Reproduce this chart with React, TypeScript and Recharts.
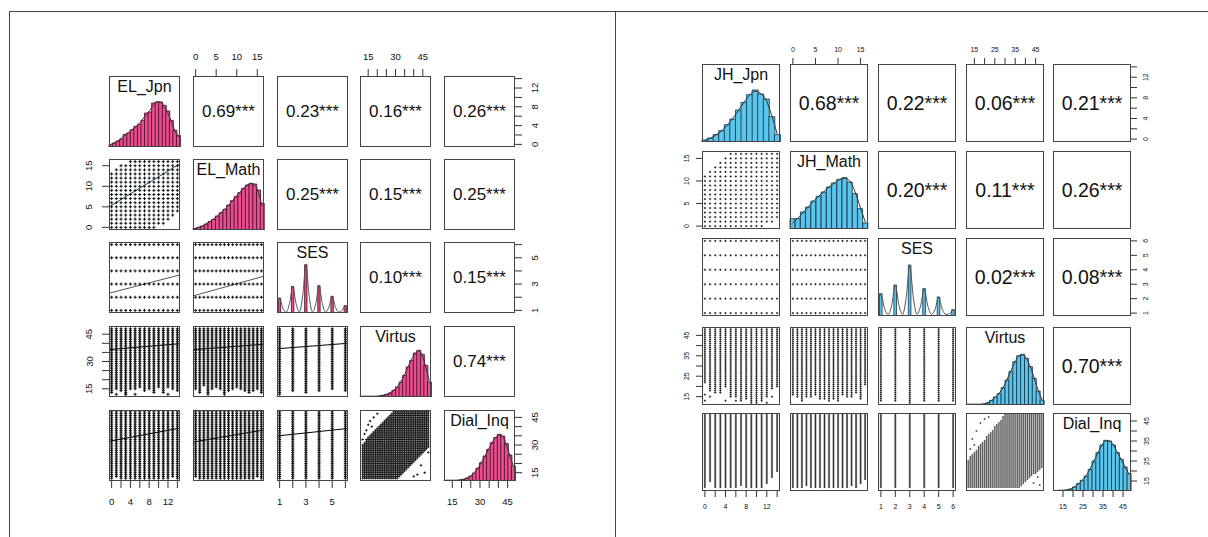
import React from 'react'
import { Bar, ComposedChart, Line, Scatter, XAxis, YAxis } from 'recharts'

const FONT = '"Liberation Sans", Arial, Helvetica, sans-serif'

// value levels of the variables
const jpnLevels = [0, 1, 2, 3, 4, 5, 6, 7, 8, 9, 10, 11, 12, 13, 14]
const mathLevels = [0, 1, 2, 3, 4, 5, 6, 7, 8, 9, 10, 11, 12, 13, 14, 15, 16]
const sesLevels = [1, 2, 3, 4, 5, 6]
const scoreLevels = [
  12, 13, 14, 15, 16, 17, 18, 19, 20, 21, 22, 23, 24, 25, 26, 27, 28, 29, 30,
  31, 32, 33, 34, 35, 36, 37, 38, 39, 40, 41, 42, 43, 44, 45, 46, 47, 48,
]

// axis ticks
const jpnTicks = [0, 2, 4, 6, 8, 10, 12, 14]
const mathTicks = [0, 5, 10, 15]
const sesTicks = [1, 2, 3, 4, 5, 6]
const scoreTicks = [15, 20, 25, 30, 35, 40, 45]

// density line grid for SES
const sesDensX = [
  0.8, 1, 1.25, 1.5, 1.75, 2, 2.25, 2.5, 2.75, 3, 3.25, 3.5, 3.75, 4, 4.25, 4.5,
  4.75, 5, 5.25, 5.5, 5.75, 6, 6.2,
]

// ---------- left: elementary ----------
const elNames = ['EL_Jpn', 'EL_Math', 'SES', 'Virtus', 'Dial_Inq']
const elCorr = [
  ['0.69***', '0.23***', '0.16***', '0.26***'],
  ['0.25***', '0.15***', '0.25***'],
  ['0.10***', '0.15***'],
  ['0.74***'],
]
const elJpnHist = [7, 12, 18, 24, 38, 42, 52, 62, 68, 80, 102, 105, 132, 135, 135, 125, 108, 80, 50, 35]
const elJpnDens = [8, 13, 18, 27, 35, 44, 52, 60, 70, 84, 97, 110, 126, 136, 134, 122, 104, 78, 50, 30]
const elMathHist = [5, 8, 12, 18, 25, 32, 42, 52, 62, 75, 88, 100, 112, 125, 135, 140, 138, 120, 80]
const elMathDens = [4, 8, 12, 18, 25, 33, 42, 52, 62, 74, 87, 100, 113, 125, 134, 139, 135, 112, 72]
const elSesHist = [45, 80, 145, 82, 50, 22]
const elSesDens = [20, 44, 14, 3, 28, 79, 28, 3, 50, 143, 50, 3, 28, 80, 28, 3, 18, 49, 17, 3, 8, 22, 12]
const elVirtusHist = [2, 2, 2, 2, 2, 3, 5, 8, 12, 20, 30, 45, 65, 90, 110, 132, 140, 128, 95, 45]
const elVirtusDens = [2, 2, 2, 2, 2, 3, 5, 8, 13, 20, 31, 46, 66, 90, 112, 130, 138, 126, 90, 48]
const elDialHist = [2, 2, 2, 2, 3, 5, 9, 15, 24, 38, 55, 75, 95, 115, 130, 140, 135, 112, 78, 45]
const elDialDens = [2, 2, 2, 2, 3, 5, 9, 15, 25, 38, 55, 74, 95, 114, 130, 138, 134, 110, 78, 46]

const elJpnMathLo = [0, 0, 0, 0, 0, 0, 0, 0, 0, 0, 1, 1, 2, 3, 4]
const elJpnMathHi = [13, 14, 15, 15, 16, 16, 16, 16, 16, 16, 16, 16, 16, 16, 16]
const elJpnVirtusLo = [13, 15, 14, 12, 15, 15, 16, 14, 15, 14, 16, 13, 16, 15, 14]
const elMathVirtusLo = [15, 13, 17, 12, 15, 16, 15, 12, 14, 15, 16, 15, 14, 13, 14, 15, 13]
const elSesVirtusLo = [12, 14, 13, 14, 15, 14]
const elJpnDialLo = [12, 13, 12, 12, 12, 12, 12, 12, 12, 12, 12, 12, 12, 13, 12]
const elMathDialLo = [13, 12, 12, 12, 12, 12, 12, 12, 12, 12, 12, 12, 12, 12, 12, 13, 12]
const elSesDialLo = [12, 12, 12, 12, 12, 12]
const elVirDialLo = [
  12, 12, 12, 12, 12, 12, 12, 12, 12, 12, 12, 12, 12, 12, 12, 12, 12, 12, 12,
  12, 13, 14, 15, 16, 17, 18, 19, 20, 21, 22, 23, 24, 25, 26, 27, 28, 29,
]
const elVirDialHi = [
  30, 31, 33, 34, 35, 36, 37, 38, 39, 40, 41, 42, 43, 44, 45, 46, 47, 48, 48,
  48, 48, 48, 48, 48, 48, 48, 48, 48, 48, 48, 48, 48, 48, 48, 48, 48, 48,
]
const elVirDialExtra = [
  { x: 12, y: 33 }, { x: 13, y: 36 }, { x: 14, y: 38 }, { x: 15, y: 41 },
  { x: 16, y: 43 }, { x: 17, y: 40 }, { x: 18, y: 45 }, { x: 20, y: 47 },
  { x: 40, y: 13 }, { x: 42, y: 14 }, { x: 44, y: 19 }, { x: 46, y: 15 }, { x: 48, y: 26 },
]
const elJpnVirtusExtra = [
  { x: 1, y: 12 }, { x: 3, y: 12 }, { x: 5, y: 12 }, { x: 9, y: 13 }, { x: 12, y: 12 },
]

const elFit21 = [{ x: -0.56, y: 5.0 }, { x: 14.56, y: 15.5 }]
const elFit31 = [{ x: -0.56, y: 2.3 }, { x: 14.56, y: 3.7 }]
const elFit32 = [{ x: -0.64, y: 2.1 }, { x: 16.64, y: 3.6 }]
const elFit41 = [{ x: -0.56, y: 36.5 }, { x: 14.56, y: 39.8 }]
const elFit42 = [{ x: -0.64, y: 36.5 }, { x: 16.64, y: 39.5 }]
const elFit43 = [{ x: 0.8, y: 37 }, { x: 6.2, y: 40 }]
const elFit51 = [{ x: -0.56, y: 32 }, { x: 14.56, y: 39.2 }]
const elFit52 = [{ x: -0.64, y: 31.6 }, { x: 16.64, y: 38.2 }]
const elFit53 = [{ x: 0.8, y: 34.9 }, { x: 6.2, y: 39 }]

// ---------- right: junior high ----------
const jhNames = ['JH_Jpn', 'JH_Math', 'SES', 'Virtus', 'Dial_Inq']
const jhCorr = [
  ['0.68***', '0.22***', '0.06***', '0.21***'],
  ['0.20***', '0.11***', '0.26***'],
  ['0.02***', '0.08***'],
  ['0.70***'],
]
const jhJpnHist = [6, 12, 22, 34, 52, 69, 96, 119, 142, 156, 144, 129, 76, 22]
const jhJpnDens = [5, 11, 21, 33, 50, 70, 94, 118, 140, 152, 146, 126, 80, 24]
const jhMathHist = [31, 31, 51, 66, 84, 98, 111, 126, 138, 149, 154, 141, 106, 61, 18]
const jhMathDens = [18, 32, 49, 66, 83, 98, 112, 126, 138, 148, 152, 144, 112, 66, 20]
const jhSesHist = [67, 93, 153, 82, 57, 19]
const jhSesDens = [30, 66, 22, 5, 32, 92, 32, 5, 54, 150, 54, 5, 30, 81, 30, 5, 20, 56, 20, 5, 7, 19, 10]
const jhVirtusHist = [2, 2, 2, 2, 3, 6, 14, 24, 34, 52, 75, 100, 130, 148, 152, 140, 115, 80, 42, 15]
const jhVirtusDens = [2, 2, 2, 2, 3, 6, 13, 23, 35, 52, 76, 102, 128, 146, 150, 140, 114, 80, 44, 16]
const jhDialHist = [1, 2, 2, 3, 6, 12, 22, 32, 45, 65, 90, 115, 138, 152, 150, 138, 115, 95, 72, 52]
const jhDialDens = [1, 2, 2, 3, 6, 12, 21, 32, 46, 66, 90, 114, 136, 150, 150, 138, 116, 94, 72, 50]

const jhJpnMathLo = [0, 0, 0, 0, 0, 0, 0, 0, 0, 0, 0, 0, 1, 1, 2]
const jhJpnMathHi = [11, 12, 13, 14, 15, 16, 16, 16, 16, 16, 16, 16, 16, 16, 16]
const jhJpnVirtusLo = [22, 18, 17, 17, 20, 15, 15, 13, 14, 12, 12, 13, 15, 19, 20]
const jhJpnVirtusExtra = [
  { x: 0, y: 16 }, { x: 0, y: 13 }, { x: 1, y: 15 }, { x: 4, y: 13 },
  { x: 6, y: 13 }, { x: 12, y: 12 }, { x: 13, y: 15 },
]
const jhMathVirtusLo = [16, 15, 13, 15, 15, 16, 14, 14, 13, 14, 13, 16, 15, 15, 17, 14, 21]
const jhSesVirtusLo = [13, 13, 12, 13, 13, 13]
const jhJpnDialLo = [12, 15, 12, 12, 12, 12, 12, 13, 12, 12, 12, 12, 14, 17, 20]
const jhMathDialLo = [12, 12, 12, 13, 12, 12, 12, 12, 12, 12, 12, 12, 12, 13, 12, 14, 16]
const jhSesDialLo = [12, 12, 12, 12, 12, 12]
const jhVirDialLo = [
  12, 12, 12, 12, 12, 12, 12, 12, 12, 12, 12, 12, 12, 12, 12, 12, 12, 12, 12,
  12, 12, 12, 12, 12, 12, 12, 13, 14, 15, 16, 17, 18, 19, 19, 20, 21, 22,
]
const jhVirDialHi = [
  25, 27, 28, 29, 30, 32, 33, 34, 35, 37, 38, 39, 40, 42, 43, 44, 45, 47, 48,
  48, 48, 48, 48, 48, 48, 48, 48, 48, 48, 48, 48, 48, 48, 48, 48, 48, 48,
]
const jhVirDialExtra = [
  { x: 13, y: 31 }, { x: 14, y: 36 }, { x: 15, y: 33 }, { x: 16, y: 40 },
  { x: 18, y: 44 }, { x: 20, y: 46 }, { x: 22, y: 47 },
  { x: 44, y: 14 }, { x: 46, y: 17 }, { x: 47, y: 13 },
]

type Pt = { x: number; y: number }
type ScatSpec = {
  xs: number[]
  ys: number[]
  lo: number[]
  hi?: number[]
  extra?: Pt[]
  fit?: Pt[]
  fitColor?: string
  dot?: number
  dotWidth?: number
}
type HistSpec = { h: number[]; d: number[] }

type MatrixSpec = {
  colX: number[]
  rowY: number[]
  size: number
  names: string[]
  corr: string[][]
  domains: [number, number][]
  ticks: number[][]
  labels: number[][]
  hists: HistSpec[]
  sesHist: number[]
  sesDens: number[]
  scatter: Record<string, ScatSpec>
  barFill: string
  barStroke: string
  sesBar: number
  histTop: number
  nameSize: number
  corrSize: number
  tickFont: number
  tickLen: number
  labelGap: number
  dot: number
  dotWidth: number
}

const elMatrix: MatrixSpec = {
  colX: [109, 193, 277, 360, 444],
  rowY: [76, 159, 242, 326, 410],
  size: 71,
  names: elNames,
  corr: elCorr,
  domains: [[-0.56, 14.56], [-0.64, 16.64], [0.8, 6.2], [10.5, 49.5], [10.5, 49]],
  ticks: [jpnTicks, mathTicks, sesTicks, scoreTicks, scoreTicks],
  labels: [[0, 4, 8, 12], [0, 5, 10, 15], [1, 3, 5], [15, 30, 45], [15, 30, 45]],
  hists: [
    { h: elJpnHist, d: elJpnDens },
    { h: elMathHist, d: elMathDens },
    { h: [], d: [] },
    { h: elVirtusHist, d: elVirtusDens },
    { h: elDialHist, d: elDialDens },
  ],
  sesHist: elSesHist,
  sesDens: elSesDens,
  scatter: {
    '10': { xs: jpnLevels, ys: mathLevels, lo: elJpnMathLo, hi: elJpnMathHi, fit: elFit21, fitColor: '#2d4862' },
    '20': { xs: jpnLevels, ys: sesLevels, lo: jpnLevels.map(() => 1), fit: elFit31, fitColor: '#555' },
    '21': { xs: mathLevels, ys: sesLevels, lo: mathLevels.map(() => 1), fit: elFit32, fitColor: '#555' },
    '30': { xs: jpnLevels, ys: scoreLevels, lo: elJpnVirtusLo, extra: elJpnVirtusExtra, fit: elFit41, fitColor: '#000' },
    '31': { xs: mathLevels, ys: scoreLevels, lo: elMathVirtusLo, fit: elFit42, fitColor: '#000' },
    '32': { xs: sesLevels, ys: scoreLevels, lo: elSesVirtusLo, fit: elFit43, fitColor: '#000' },
    '40': { xs: jpnLevels, ys: scoreLevels, lo: elJpnDialLo, fit: elFit51, fitColor: '#000' },
    '41': { xs: mathLevels, ys: scoreLevels, lo: elMathDialLo, fit: elFit52, fitColor: '#000' },
    '42': { xs: sesLevels, ys: scoreLevels, lo: elSesDialLo, fit: elFit53, fitColor: '#000' },
    '43': { xs: scoreLevels, ys: scoreLevels, lo: elVirDialLo, hi: elVirDialHi, extra: elVirDialExtra, dot: 1.2, dotWidth: 0.9 },
  },
  barFill: '#ea4e8f',
  barStroke: '#3d0b24',
  sesBar: 4,
  histTop: 213,
  nameSize: 16,
  corrSize: 17,
  tickFont: 9.5,
  tickLen: 7,
  labelGap: 20,
  dot: 1.5,
  dotWidth: 1,
}

const jhMatrix: MatrixSpec = {
  colX: [702, 790, 878, 966, 1053],
  rowY: [64, 151, 238, 327, 413],
  size: 78,
  names: jhNames,
  corr: jhCorr,
  domains: [[-0.56, 14.56], [-0.64, 16.64], [0.8, 6.2], [10.9, 49.1], [10, 49]],
  ticks: [jpnTicks, mathTicks, sesTicks, scoreTicks, scoreTicks],
  labels: [[0, 4, 8, 12], [0, 5, 10, 15], [1, 2, 3, 4, 5, 6], [15, 25, 35, 45], [15, 25, 35, 45]],
  hists: [
    { h: jhJpnHist, d: jhJpnDens },
    { h: jhMathHist, d: jhMathDens },
    { h: [], d: [] },
    { h: jhVirtusHist, d: jhVirtusDens },
    { h: jhDialHist, d: jhDialDens },
  ],
  sesHist: jhSesHist,
  sesDens: jhSesDens,
  scatter: {
    '10': { xs: jpnLevels, ys: mathLevels, lo: jhJpnMathLo, hi: jhJpnMathHi },
    '20': { xs: jpnLevels, ys: sesLevels, lo: jpnLevels.map(() => 1) },
    '21': { xs: mathLevels, ys: sesLevels, lo: mathLevels.map(() => 1) },
    '30': { xs: jpnLevels, ys: scoreLevels, lo: jhJpnVirtusLo, extra: jhJpnVirtusExtra },
    '31': { xs: mathLevels, ys: scoreLevels, lo: jhMathVirtusLo },
    '32': { xs: sesLevels, ys: scoreLevels, lo: jhSesVirtusLo },
    '40': { xs: jpnLevels, ys: scoreLevels, lo: jhJpnDialLo },
    '41': { xs: mathLevels, ys: scoreLevels, lo: jhMathDialLo },
    '42': { xs: sesLevels, ys: scoreLevels, lo: jhSesDialLo },
    '43': { xs: scoreLevels, ys: scoreLevels, lo: jhVirDialLo, hi: jhVirDialHi, extra: jhVirDialExtra, dot: 1, dotWidth: 0.6 },
  },
  barFill: '#5ac6ee',
  barStroke: '#123040',
  sesBar: 4.5,
  histTop: 234,
  nameSize: 16,
  corrSize: 19.5,
  tickFont: 7,
  tickLen: 6,
  labelGap: 15,
  dot: 1.1,
  dotWidth: 0.8,
}

const PAD = 32
const AXIS = 26

function expand(s: ScatSpec): Pt[] {
  const pts: Pt[] = []
  s.xs.forEach((x, i) => {
    s.ys.forEach((y) => {
      if (y >= s.lo[i] && y <= (s.hi ? s.hi[i] : Infinity)) pts.push({ x, y })
    })
  })
  return pts.concat(s.extra ?? [])
}

const makeTick = (labels: number[], size: number, rotate: boolean) => (p: any) => {
  const v = p.payload?.value
  if (!labels.includes(v)) return <g />
  return (
    <text
      x={p.x}
      y={p.y}
      textAnchor="middle"
      dominantBaseline="central"
      fontSize={size}
      fontFamily={FONT}
      fill="#111"
      transform={rotate ? `rotate(-90 ${p.x} ${p.y})` : undefined}
    >
      {v}
    </text>
  )
}

function Panel({ m, r, c }: { m: MatrixSpec; r: number; c: number }) {
  const w = m.size
  const h = m.size
  const showTop = r === 0 && c % 2 === 1
  const showBottom = r === 4 && c % 2 === 0
  const showLeft = c === 0 && r % 2 === 1
  const showRight = c === 4 && r % 2 === 0
  const margin = {
    top: showTop ? PAD - AXIS : PAD,
    bottom: showBottom ? PAD - AXIS : PAD,
    left: showLeft ? PAD - AXIS : PAD,
    right: showRight ? PAD - AXIS : PAD,
  }
  const isDiag = r === c
  const isSes = isDiag && r === 2
  const hist = isDiag && !isSes ? m.hists[r] : null
  const scat = r > c ? m.scatter[`${r}${c}`] : null

  let data: any[] = []
  if (hist) data = hist.h.map((v, i) => ({ b: i, h: v, d: hist.d[i] }))
  if (isSes) data = sesLevels.map((x, i) => ({ x, h: m.sesHist[i] }))

  const axisStyle = (labels: number[], rotate: boolean) => ({
    tick: makeTick(labels, m.tickFont, rotate),
    tickLine: { stroke: '#333', strokeWidth: 1 },
    tickSize: m.tickLen,
    tickMargin: m.labelGap - m.tickLen,
    axisLine: false,
    interval: 0 as const,
  })

  const dot = scat?.dot ?? m.dot
  const dotWidth = scat?.dotWidth ?? m.dotWidth
  const crossShape = (p: any) => (
    <path
      d={`M${p.cx - dot},${p.cy}h${2 * dot}M${p.cx},${p.cy - dot}v${2 * dot}`}
      stroke="#111"
      strokeWidth={dotWidth}
      fill="none"
    />
  )

  return (
    <div
      style={{
        position: 'absolute',
        left: m.colX[c] - PAD,
        top: m.rowY[r] - PAD,
        width: w + 2 * PAD,
        height: h + 2 * PAD,
      }}
    >
      <ComposedChart width={w + 2 * PAD} height={h + 2 * PAD} margin={margin} data={data} barCategoryGap={0} barGap={0}>
        <XAxis
          xAxisId="v"
          dataKey="x"
          type="number"
          domain={m.domains[c]}
          allowDataOverflow
          ticks={m.ticks[c]}
          hide={!(showTop || showBottom)}
          orientation={showTop ? 'top' : 'bottom'}
          height={AXIS}
          {...axisStyle(m.labels[c], false)}
        />
        <YAxis
          yAxisId="v"
          dataKey="y"
          type="number"
          domain={m.domains[r]}
          allowDataOverflow
          ticks={m.ticks[r]}
          hide={!(showLeft || showRight)}
          orientation={showLeft ? 'left' : 'right'}
          width={AXIS}
          {...axisStyle(m.labels[r], true)}
        />
        {isDiag && (
          <XAxis xAxisId="h" dataKey="b" type="category" hide height={0} orientation={showBottom ? 'top' : 'bottom'} />
        )}
        {isDiag && (
          <YAxis
            yAxisId="h"
            type="number"
            domain={[0, m.histTop]}
            allowDataOverflow
            hide
            width={0}
            orientation={showRight ? 'left' : 'right'}
          />
        )}
        {hist && (
          <Bar xAxisId="h" yAxisId="h" dataKey="h" fill={m.barFill} stroke={m.barStroke} strokeWidth={0.8} isAnimationActive={false} />
        )}
        {hist && (
          <Line xAxisId="h" yAxisId="h" dataKey="d" type="monotone" stroke="#333" strokeWidth={1} dot={false} isAnimationActive={false} />
        )}
        {isSes && (
          <Bar xAxisId="v" yAxisId="h" dataKey="h" barSize={m.sesBar} fill={m.barFill} stroke={m.barStroke} strokeWidth={0.8} isAnimationActive={false} />
        )}
        {isSes && (
          <Line
            xAxisId="v"
            yAxisId="h"
            data={sesDensX.map((x, i) => ({ x, d: m.sesDens[i] }))}
            dataKey="d"
            type="monotone"
            stroke="#555"
            strokeWidth={1}
            dot={false}
            isAnimationActive={false}
          />
        )}
        {scat && (
          <Scatter xAxisId="v" yAxisId="v" data={expand(scat)} shape={crossShape} isAnimationActive={false} />
        )}
        {scat && scat.fit && (
          <Line
            xAxisId="v"
            yAxisId="v"
            data={scat.fit}
            dataKey="y"
            stroke={scat.fitColor}
            strokeWidth={1}
            dot={false}
            isAnimationActive={false}
          />
        )}
      </ComposedChart>
      <div
        style={{
          position: 'absolute',
          left: PAD,
          top: PAD,
          width: w,
          height: h,
          boxSizing: 'border-box',
          border: '1px solid #444',
          pointerEvents: 'none',
        }}
      />
      {isDiag && (
        <div
          style={{
            position: 'absolute',
            left: PAD,
            top: PAD + 1,
            width: w,
            textAlign: 'center',
            fontSize: m.nameSize,
            lineHeight: '20px',
            fontFamily: FONT,
            color: '#111',
          }}
        >
          {m.names[r]}
        </div>
      )}
      {c > r && (
        <div
          style={{
            position: 'absolute',
            left: PAD,
            top: PAD,
            width: w,
            height: h,
            lineHeight: `${h}px`,
            textAlign: 'center',
            fontSize: m.corrSize,
            fontFamily: FONT,
            color: '#111',
          }}
        >
          {m.corr[r][c - r - 1]}
        </div>
      )}
    </div>
  )
}

const cells: [number, number][] = []
for (let r = 0; r < 5; r++) for (let c = 0; c < 5; c++) cells.push([r, c])

export default function App() {
  return (
    <div
      style={{
        position: 'absolute',
        left: 0,
        top: 0,
        width: 1208,
        height: 537,
        background: '#fff',
        overflow: 'hidden',
        fontFamily: FONT,
      }}
    >
      <div style={{ position: 'absolute', left: 9, top: 11, width: 1199, height: 1, background: '#444' }} />
      <div style={{ position: 'absolute', left: 9, top: 11, width: 1, height: 526, background: '#444' }} />
      <div style={{ position: 'absolute', left: 615, top: 11, width: 1, height: 526, background: '#444' }} />
      {[elMatrix, jhMatrix].map((m, k) =>
        cells.map(([r, c]) => <Panel key={`${k}-${r}-${c}`} m={m} r={r} c={c} />),
      )}
    </div>
  )
}
